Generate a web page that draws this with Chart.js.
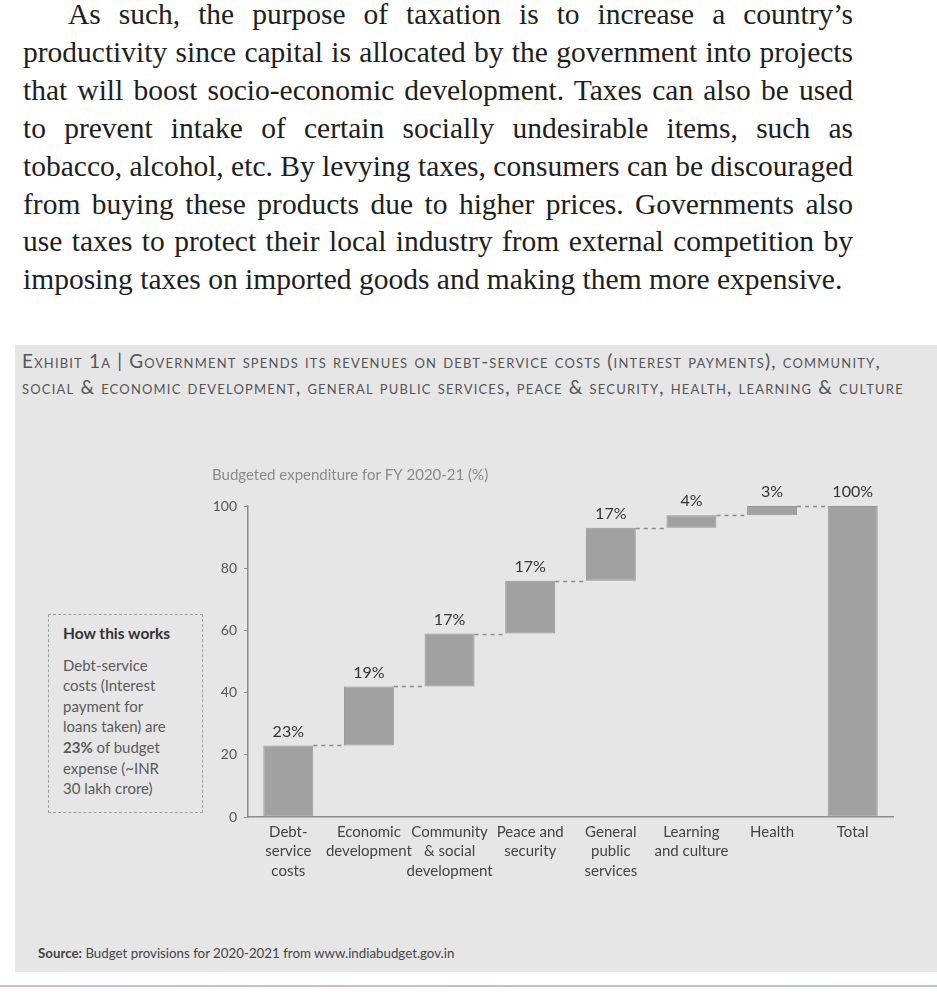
<!DOCTYPE html>
<html>
<head>
<meta charset="utf-8">
<script src="https://cdn.jsdelivr.net/npm/chart.js@4.4.1/dist/chart.umd.min.js"></script>
<style>
  html, body { margin: 0; padding: 0; background: #fff; }
  body { width: 937px; height: 992px; position: relative; overflow: hidden; }
  .para { position: absolute; left: 23px; top: -4px; width: 830px; font-family: "Liberation Serif", serif; font-size: 29.5px; line-height: 37.9px; color: #1e1e1e; }
  .para span { display: block; white-space: nowrap; text-align: justify; text-align-last: justify; }
  .para span.first { padding-left: 45px; }
  .para span.last { text-align-last: left; }
  .exhibit { position: absolute; left: 15px; top: 345px; width: 922px; height: 627px; background: #e6e6e7; }
  .title { position: absolute; left: 7px; top: 3px; font-family: Lato, sans-serif; font-variant: small-caps; font-size: 19px; letter-spacing: 1.18px; line-height: 26px; color: #555; white-space: nowrap; }
  .how { position: absolute; left: 48px; top: 614px; width: 155px; height: 199px; border: 1.5px dashed #a0a0a0; box-sizing: border-box; font-family: Lato, sans-serif; color: #5a5a5a; font-size: 15px; line-height: 20.6px; padding: 8px 0 0 14px; }
  .how b.h { display: block; color: #333; font-size: 15.5px; margin-bottom: 11px; }
  .src { position: absolute; left: 38px; top: 945px; font-family: Lato, sans-serif; font-size: 13.3px; color: #444; }
  .edge { position: absolute; left: 0; top: 985px; width: 937px; height: 2px; background: linear-gradient(90deg, #d8b9c4, #b9c3d8); }
  #chart { position: absolute; left: 200px; top: 455px; }
</style>
</head>
<body>
<div class="para">
  <span class="first">As such, the purpose of taxation is to increase a country’s</span>
  <span>productivity since capital is allocated by the government into projects</span>
  <span>that will boost socio-economic development. Taxes can also be used</span>
  <span>to prevent intake of certain socially undesirable items, such as</span>
  <span>tobacco, alcohol, etc. By levying taxes, consumers can be discouraged</span>
  <span>from buying these products due to higher prices. Governments also</span>
  <span>use taxes to protect their local industry from external competition by</span>
  <span class="last">imposing taxes on imported goods and making them more expensive.</span>
</div>
<div class="exhibit">
  <div class="title">Exhibit 1a | Government spends its revenues on debt-service costs (interest payments), community,<br>social &amp; economic development, general public services, peace &amp; security, health, learning &amp; culture</div>
</div>
<div class="how"><b class="h">How this works</b>Debt-service<br>costs (Interest<br>payment for<br>loans taken) are<br><b>23%</b> of budget<br>expense (~INR<br>30 lakh crore)</div>
<div class="src"><b>Source:</b> Budget provisions for 2020-2021 from www.indiabudget.gov.in</div>
<div class="edge"></div>
<canvas id="chart" width="710" height="432"></canvas>
<script>
// Budgeted expenditure FY 2020-21, share of total (%)
const categories = [
  ['Debt-', 'service', 'costs'],
  ['Economic', 'development'],
  ['Community', '& social', 'development'],
  ['Peace and', 'security'],
  ['General', 'public', 'services'],
  ['Learning', 'and culture'],
  ['Health'],
  ['Total']
];
const shares = [23, 19, 17, 17, 17, 4, 3];
const totalShare = 100;
const yTicks = [0, 20, 40, 60, 80, 100];
const axisTitle = 'Budgeted expenditure for FY 2020-21 (%)';

// floating bars: each step starts where the previous one ended
let run = 0;
const ranges = shares.map(v => { const r = [run, run + v]; run += v; return r; });
ranges.push([0, totalShare]);
const valueLabels = shares.concat([totalShare]).map(v => v + '%');

// dashed connectors between steps
const connectors = {
  id: 'connectors',
  beforeDatasetsDraw(chart) {
    const bars = chart.getDatasetMeta(0).data;
    const y = chart.scales.y;
    const ctx = chart.ctx;
    ctx.save();
    ctx.strokeStyle = '#8c8c8c';
    ctx.lineWidth = 1.5;
    ctx.setLineDash([4, 4]);
    for (let i = 0; i < bars.length - 1; i++) {
      const py = Math.round(y.getPixelForValue(ranges[i][1])) + 0.5;
      ctx.beginPath();
      ctx.moveTo(bars[i].x + bars[i].width / 2, py);
      ctx.lineTo(bars[i + 1].x - bars[i + 1].width / 2, py);
      ctx.stroke();
    }
    ctx.restore();
  }
};

// value labels above each bar
const barLabels = {
  id: 'barLabels',
  afterDatasetsDraw(chart) {
    const bars = chart.getDatasetMeta(0).data;
    const ctx = chart.ctx;
    ctx.save();
    ctx.font = '16px Lato, sans-serif';
    ctx.fillStyle = '#333';
    ctx.textAlign = 'center';
    ctx.textBaseline = 'middle';
    bars.forEach((b, i) => ctx.fillText(valueLabels[i], b.x, b.y - 14));
    ctx.restore();
  }
};

new Chart(document.getElementById('chart'), {
  type: 'bar',
  data: {
    labels: categories,
    datasets: [{
      data: ranges,
      backgroundColor: '#a1a1a1',
      borderColor: '#979797',
      borderWidth: 1,
      borderSkipped: false,
      barPercentage: 0.62,
      categoryPercentage: 1
    }]
  },
  options: {
    responsive: false,
    animation: false,
    layout: { padding: { left: 12, right: 17, top: 0, bottom: 0 } },
    plugins: {
      legend: { display: false },
      tooltip: { enabled: false },
      title: {
        display: true,
        text: axisTitle,
        align: 'start',
        color: '#8a8a8a',
        font: { family: 'Lato, sans-serif', size: 15, weight: 'normal' },
        padding: { top: 11, bottom: 22 }
      }
    },
    scales: {
      x: {
        grid: { display: true, drawOnChartArea: false, drawTicks: false },
        border: { display: true, color: '#8c8c8c', width: 1.5 },
        ticks: {
          autoSkip: false,
          maxRotation: 0,
          padding: 5,
          color: '#444',
          font: { family: 'Lato, sans-serif', size: 15, lineHeight: 1.3 }
        },
        afterFit(scale) { scale.height = 70; }
      },
      y: {
        min: 0,
        max: 100,
        grid: { drawOnChartArea: false, drawTicks: true, tickLength: 4, color: '#8c8c8c' },
        border: { display: true, color: '#8c8c8c', width: 1.5 },
        ticks: {
          padding: 7,
          color: '#555',
          font: { family: 'Lato, sans-serif', size: 14 }
        },
        afterBuildTicks(scale) { scale.ticks = yTicks.map(v => ({ value: v })); },
        afterFit(scale) { scale.width = 36; }
      }
    }
  },
  plugins: [connectors, barLabels]
});
</script>
</body>
</html>
